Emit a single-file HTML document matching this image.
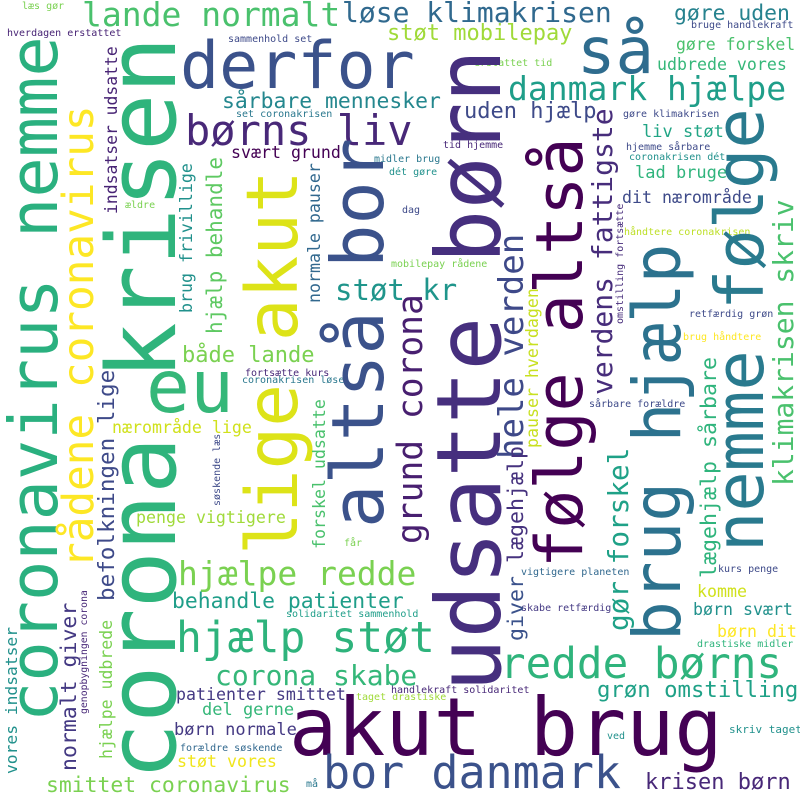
<!DOCTYPE html>
<html><head><meta charset="utf-8"><style>
html,body{margin:0;padding:0;background:#fff;}
svg{display:block;}
text{font-family:"DejaVu Sans Mono","Liberation Mono",monospace;}
</style></head><body>
<svg width="800" height="800" viewBox="0 0 800 800" xmlns="http://www.w3.org/2000/svg">
<rect width="800" height="800" fill="#fff"/>
<g>
<text x="22" y="9" font-size="10" fill="#7ad151">læs gør</text>
<text x="7" y="36" font-size="10" fill="#482475">hverdagen erstattet</text>
<text x="82" y="26" font-size="33" fill="#4ac16d">lande normalt</text>
<text x="342" y="22" font-size="28" fill="#30698e">løse klimakrisen</text>
<text x="228" y="42" font-size="10" fill="#3e4a89">sammenhold set</text>
<text x="387" y="40" font-size="22" fill="#a0da39">støt mobilepay</text>
<text x="180" y="88" font-size="65" fill="#3b528b">derfor</text>
<text x="577" y="73" font-size="64" fill="#2f6c8e">så</text>
<text x="222" y="108" font-size="21.4" fill="#24878e">sårbare mennesker</text>
<text x="236" y="117" font-size="10" fill="#2a788e">set coronakrisen</text>
<text x="185" y="145" font-size="42" fill="#482878">børns liv</text>
<text x="231" y="158" font-size="16.6" fill="#440154">svært grund</text>
<text x="374" y="162" font-size="10" fill="#2a788e">midler brug</text>
<text x="389" y="175" font-size="10" fill="#21918c">dét gøre</text>
<text x="125" y="208" font-size="10" fill="#7ad151">ældre</text>
<text x="335" y="300" font-size="29" fill="#1f958b">støt kr</text>
<text x="182" y="362" font-size="22" fill="#7ad151">både lande</text>
<text x="245" y="376" font-size="10" fill="#482878">fortsætte kurs</text>
<text x="242" y="383" font-size="10" fill="#2a788e">coronakrisen løse</text>
<text x="146" y="412" font-size="73" fill="#35b779">eu</text>

<text x="674" y="20" font-size="21.4" fill="#26828e">gøre uden</text>
<text x="691" y="28" font-size="10" fill="#3e4a89">bruge handlekraft</text>
<text x="676" y="50" font-size="16.5" fill="#4ac16d">gøre forskel</text>
<text x="474" y="66" font-size="10" fill="#7ad151">erstattet tid</text>
<text x="657" y="70" font-size="16.6" fill="#35b779">udbrede vores</text>
<text x="508" y="100" font-size="33" fill="#1f9e89">danmark hjælpe</text>
<text x="464" y="118" font-size="22" fill="#3e4a89">uden hjælp</text>
<text x="623" y="117" font-size="10" fill="#3e4a89">gøre klimakrisen</text>
<text x="642" y="137" font-size="17" fill="#21a585">liv støt</text>
<text x="443" y="148" font-size="10" fill="#482878">tid hjemme</text>
<text x="626" y="150" font-size="10" fill="#3e4a89">hjemme sårbare</text>
<text x="629" y="160" font-size="10" fill="#21918c">coronakrisen dét</text>
<text x="635" y="178" font-size="17" fill="#2fb47c">lad bruge</text>
<text x="622" y="203" font-size="16.6" fill="#3e4a89">dit nærområde</text>
<text x="402" y="213" font-size="10" fill="#3e4a89">dag</text>
<text x="624" y="235" font-size="10" fill="#bddf26">håndtere coronakrisen</text>
<text x="391" y="267" font-size="10" fill="#7ad151">mobilepay rådene</text>
<text x="689" y="317" font-size="10" fill="#3e4a89">retfærdig grøn</text>
<text x="683" y="340" font-size="10" fill="#fde725">brug håndtere</text>

<text x="112" y="433" font-size="16.6" fill="#d0e11c">nærområde lige</text>
<text x="136" y="523" font-size="16.6" fill="#a0da39">penge vigtigere</text>
<text x="344" y="546" font-size="10" fill="#7ad151">får</text>
<text x="178" y="585" font-size="33" fill="#7ad151">hjælpe redde</text>
<text x="172" y="608" font-size="21.4" fill="#1f9e89">behandle patienter</text>
<text x="286" y="617" font-size="10" fill="#1f9e89">solidaritet sammenhold</text>
<text x="176" y="652" font-size="43" fill="#2eb37c">hjælp støt</text>
<text x="215" y="685" font-size="28" fill="#35b779">corona skabe</text>
<text x="391" y="693" font-size="10" fill="#482878">handlekraft solidaritet</text>
<text x="176" y="700" font-size="16.6" fill="#443983">patienter smittet</text>
<text x="356" y="700" font-size="10" fill="#a0da39">taget drastiske</text>
<text x="202" y="715" font-size="17" fill="#35b779">del gerne</text>
<text x="174" y="735" font-size="17" fill="#443983">børn normale</text>
<text x="180" y="751" font-size="10" fill="#31688e">forældre søskende</text>
<text x="177" y="767" font-size="16.6" fill="#f0e51c">støt vores</text>
<text x="46" y="792" font-size="21.4" fill="#7ad151">smittet coronavirus</text>
<text x="306" y="787" font-size="10" fill="#2a788e">må</text>

<text x="589" y="407" font-size="10" fill="#3e4a89">sårbare forældre</text>
<text x="521" y="575" font-size="10" fill="#31688e">vigtigere planeten</text>
<text x="718" y="572" font-size="10" fill="#3e4a89">kurs penge</text>
<text x="697" y="597" font-size="16.6" fill="#d0e11c">komme</text>
<text x="521" y="611" font-size="10" fill="#443983">skabe retfærdig</text>
<text x="693" y="615" font-size="16.6" fill="#21918c">børn svært</text>
<text x="717" y="637" font-size="16.6" fill="#fde725">børn dit</text>
<text x="697" y="647" font-size="10" fill="#2fb47c">drastiske midler</text>
<text x="500" y="678" font-size="42.6" fill="#2fb47c">redde børns</text>
<text x="597" y="697" font-size="22.3" fill="#1fa187">grøn omstilling</text>
<text x="289" y="755" font-size="80" fill="#440154">akut brug</text>
<text x="729" y="733" font-size="11" fill="#21918c">skriv taget</text>
<text x="607" y="739" font-size="10" fill="#21918c">ved</text>
<text x="323" y="788" font-size="45" fill="#3b528b">bor danmark</text>
<text x="645" y="789" font-size="22" fill="#482878">krisen børn</text>
</g>
<g>
<text transform="translate(57,722) rotate(-90)" font-size="67" fill="#2ab07f">coronavirus nemme</text>
<text transform="translate(175,780) rotate(-90)" font-size="95" fill="#2fb47c">corona krisen</text>
<text transform="translate(93,568) rotate(-90)" font-size="42.7" fill="#fde725">rådene coronavirus</text>
<text transform="translate(117,214) rotate(-90)" font-size="16.4" fill="#482475">indsatser udsatte</text>
<text transform="translate(192,313) rotate(-90)" font-size="16.6" fill="#21918c">brug frivillige</text>
<text transform="translate(222,334) rotate(-90)" font-size="21" fill="#5ec962">hjælp behandle</text>
<text transform="translate(320,303) rotate(-90)" font-size="16.6" fill="#31688e">normale pauser</text>
<text transform="translate(297,555) rotate(-90)" font-size="71" fill="#dde318">lige akut</text>
<text transform="translate(383,528) rotate(-90)" font-size="72" fill="#3b528b">altså bor</text>
<text transform="translate(500,692) rotate(-90)" font-size="89" fill="#462f7e">udsatte børn</text>
<text transform="translate(422,544) rotate(-90)" font-size="34.6" fill="#481f70">grund corona</text>
<text transform="translate(523,459) rotate(-90)" font-size="34" fill="#3e4989">hele verden</text>
<text transform="translate(582,568) rotate(-90)" font-size="65" fill="#440154">følge altså</text>
<text transform="translate(680,641) rotate(-90)" font-size="66" fill="#2c728e">brug hjælp</text>
<text transform="translate(763,552) rotate(-90)" font-size="67" fill="#297a8e">nemme følge</text>
<text transform="translate(793,486) rotate(-90)" font-size="28" fill="#4ac16d">klimakrisen skriv</text>
<text transform="translate(612,395) rotate(-90)" font-size="28" fill="#472d7b">verdens fattigste</text>
<text transform="translate(623,324) rotate(-90)" font-size="10" fill="#472d7b">omstilling fortsætte</text>
<text transform="translate(538,448) rotate(-90)" font-size="16.6" fill="#c8e020">pauser hverdagen</text>
<text transform="translate(628,631) rotate(-90)" font-size="27.7" fill="#1fa187">gør forskel</text>
<text transform="translate(523,641) rotate(-90)" font-size="21.6" fill="#46327e"><tspan fill="#3b528b">giver</tspan> lægehjælp</text>
<text transform="translate(716,578) rotate(-90)" font-size="21.6" fill="#2fb47c">lægehjælp sårbare</text>
<text transform="translate(325,549) rotate(-90)" font-size="16.6" fill="#4ac16d">forskel udsatte</text>
<text transform="translate(114,601) rotate(-90)" font-size="22.6" fill="#3e4a89">befolkningen lige</text>
<text transform="translate(76,771) rotate(-90)" font-size="21.5" fill="#443983">normalt giver</text>
<text transform="translate(17,774) rotate(-90)" font-size="16.3" fill="#21918c">vores indsatser</text>
<text transform="translate(112,759) rotate(-90)" font-size="16.5" fill="#7ad151">hjælpe udbrede</text>
<text transform="translate(87,714) rotate(-90)" font-size="9.8" fill="#482878">genopbygningen corona</text>
<text transform="translate(220,506) rotate(-90)" font-size="10" fill="#3e4a89">søskende læs</text>
</g>
</svg>
</body></html>
